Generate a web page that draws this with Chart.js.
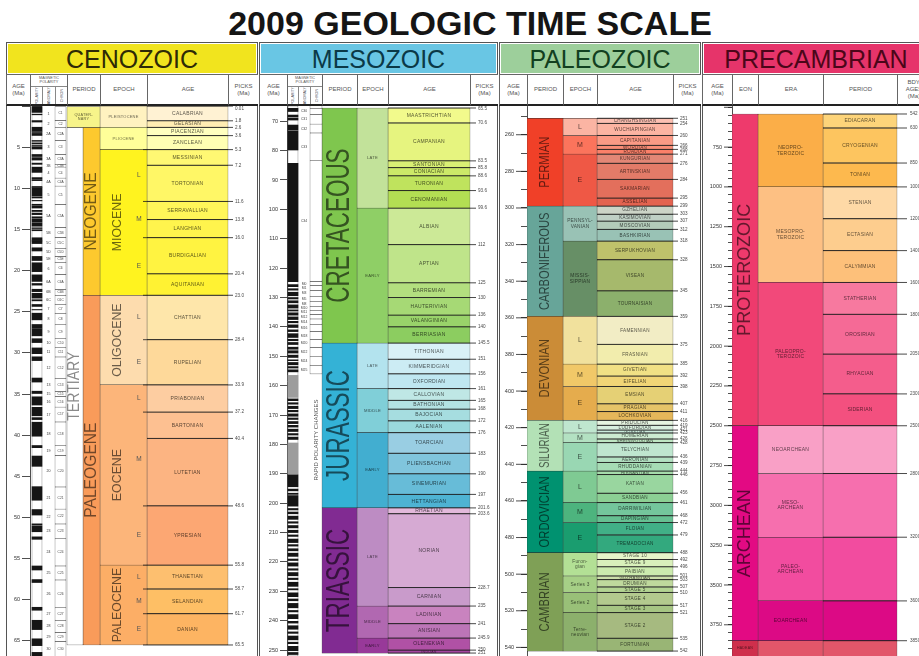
<!DOCTYPE html>
<html>
<head>
<meta charset="utf-8">
<title>2009 Geologic Time Scale</title>
<script src="https://cdn.jsdelivr.net/npm/chart.js@4.4.1/dist/chart.umd.min.js"></script>
<style>
  html, body { margin: 0; padding: 0; background: #fff; }
  #page { position: relative; width: 919px; height: 656px; overflow: hidden; font-family: "Liberation Sans", Arial, sans-serif; }
  #title { position: absolute; left: 0; top: 4px; width: 940px; text-align: center; font-weight: bold; font-size: 34px; line-height: 38px; color: #151515; }
  .frame { position: absolute; top: 42px; height: 640px; border: 1px solid #555; box-sizing: border-box; background: #fff; }
  .band { position: absolute; top: 44px; height: 29px; text-align: center; font-size: 25px; line-height: 30px; overflow: hidden; white-space: nowrap; }
  .head { position: absolute; top: 74px; height: 32px; box-sizing: border-box; border-left: 1px solid #666; border-top: 1px solid #666; border-bottom: 2px solid #222; display: flex; align-items: center; justify-content: center; text-align: center; font-size: 6px; line-height: 7px; color: #555; white-space: pre; background: #fff; overflow: hidden; }
  .mag { position: absolute; top: 1px; left: 0; right: 0; font-size: 3.8px; line-height: 4.4px; }
  .sub { position: absolute; top: 11px; bottom: 0; border-left: 1px solid #888; border-top: 1px solid #888; box-sizing: border-box; display: flex; align-items: center; justify-content: center; }
  .sub span { writing-mode: vertical-rl; transform: rotate(180deg); font-size: 3.6px; line-height: 4px; }
  canvas { position: absolute; top: 106px; }
</style>
</head>
<body>
<div id="page">
  <div id="title">2009 GEOLOGIC TIME SCALE</div>
</div>
<script>
const FONT = '"Liberation Sans", Arial, sans-serif';
Chart.defaults.font.family = FONT;

// ---------- Cenozoic ----------
const cenoPeriodNames = ['QUATER-\nNARY'];
const cenoPeriodBounds = [0, 2.6];
const cenoSubPeriodNames = ['NEOGENE', 'PALEOGENE'];
const cenoSubPeriodBounds = [2.6, 23.0, 65.5];
const cenoTertiaryNames = ['TERTIARY'];
const cenoTertiaryBounds = [2.6, 65.5];
const cenoEpochNames = ['PLEISTOCENE', 'PLIOCENE', 'MIOCENE', 'OLIGOCENE', 'EOCENE', 'PALEOCENE'];
const cenoEpochBounds = [0.01, 2.6, 5.3, 23.0, 33.9, 55.8, 65.5];
const cenoSubNames = ['L', 'M', 'E', 'L', 'E', 'L', 'M', 'E', 'L', 'M', 'E'];
const cenoSubBounds = [5.3, 11.6, 16.0, 23.0, 28.4, 33.9, 37.2, 48.6, 55.8, 58.7, 61.7, 65.5];
const cenoAgeNames = ['CALABRIAN', 'GELASIAN', 'PIACENZIAN', 'ZANCLEAN', 'MESSINIAN', 'TORTONIAN', 'SERRAVALLIAN',
  'LANGHIAN', 'BURDIGALIAN', 'AQUITANIAN', 'CHATTIAN', 'RUPELIAN', 'PRIABONIAN', 'BARTONIAN', 'LUTETIAN',
  'YPRESIAN', 'THANETIAN', 'SELANDIAN', 'DANIAN'];
const cenoAgeBounds = [0.01, 1.8, 2.6, 3.6, 5.3, 7.2, 11.6, 13.8, 16.0, 20.4, 23.0, 28.4, 33.9, 37.2, 40.4,
  48.6, 55.8, 58.7, 61.7, 65.5];
const cenoChronNames = ['1', '2', '2A', '3', '3A', '3B', '4', '4A', '5', '5A', '5B', '5C', '5D', '5E', '6', '6A',
  '6B', '6C', '7', '8', '9', '10', '11', '12', '13', '15', '16', '17', '18', '19', '20', '21', '22', '23', '24',
  '25', '26', '27', '28', '29', '30'];
const cenoChronBounds = [0, 1.77, 2.58, 4.19, 5.89, 7.09, 7.43, 8.77, 9.74, 12.0, 14.8, 16.0, 17.3, 18.3, 19.0,
  20.5, 22.3, 23.0, 24.1, 25.2, 26.6, 28.3, 29.4, 30.5, 33.1, 34.7, 35.3, 36.6, 38.4, 41.3, 42.5, 46.3, 49.0,
  50.8, 52.6, 55.9, 57.6, 61.0, 62.5, 64.0, 65.1, 67.7];
const cenoNormal = [[0, 0.78], [0.99, 1.07], [1.77, 1.95], [2.58, 3.04], [3.11, 3.22], [3.33, 3.58], [4.19, 4.29],
  [4.48, 4.62], [4.8, 4.89], [4.98, 5.23], [5.89, 6.14], [6.27, 6.57], [6.94, 7.09], [7.43, 7.65], [7.7, 8.07],
  [8.7, 8.93], [9.03, 9.07], [9.78, 9.88], [9.92, 10.95], [11.06, 11.18], [11.47, 11.53], [11.94, 12.08],
  [12.18, 12.4], [12.68, 12.82], [13.01, 13.2], [13.46, 13.59], [13.7, 14.08], [14.18, 14.61], [14.8, 14.89],
  [15.03, 15.16], [16.01, 16.29], [16.33, 16.49], [16.54, 16.72], [17.23, 17.62], [18.28, 18.78], [19.05, 20.13],
  [20.52, 21.32], [21.57, 21.77], [22.27, 22.56], [22.76, 23.35], [23.54, 23.68], [24.12, 24.36], [24.73, 24.78],
  [25.18, 25.99], [26.55, 27.03], [27.1, 27.93], [28.28, 28.75], [29.4, 30.1], [30.48, 30.94], [33.06, 33.55],
  [34.66, 34.94], [35.34, 36.34], [36.62, 37.65], [37.87, 38.11], [38.43, 40.13], [41.26, 41.52], [42.54, 43.79],
  [46.26, 47.91], [49.04, 49.71], [50.78, 50.95], [51.07, 51.74], [52.36, 52.66], [55.9, 56.39], [57.55, 57.91],
  [60.92, 61.28], [62.5, 63.63], [64.75, 65.58], [66.4, 68.18]];

const cenoEpochColors = ['#fff2c0', '#ffff99', '#fff31f', '#fddcae', '#fcb57a', '#fcae66'];
const cenoAgeColors = ['#fff2d3', '#ffedb3', '#ffffbf', '#ffffb3', '#fff873', '#fff766', '#fff659', '#fff44d',
  '#fff341', '#fff233', '#fee6aa', '#fed99a', '#fdcda1', '#fdc091', '#fcb482', '#fca773', '#fdbf6f', '#febf65',
  '#fdb462'];

// ---------- Mesozoic ----------
const mesoPeriodNames = ['CRETACEOUS', 'JURASSIC', 'TRIASSIC'];
const mesoPeriodBounds = [65.5, 145.5, 201.6, 251.0];
const mesoEpochNames = ['LATE', 'EARLY', 'LATE', 'MIDDLE', 'EARLY', 'LATE', 'MIDDLE', 'EARLY'];
const mesoEpochBounds = [65.5, 99.6, 145.5, 161, 176, 201.6, 235, 245.9, 251.0];
const mesoAgeNames = ['MAASTRICHTIAN', 'CAMPANIAN', 'SANTONIAN', 'CONIACIAN', 'TURONIAN', 'CENOMANIAN', 'ALBIAN',
  'APTIAN', 'BARREMIAN', 'HAUTERIVIAN', 'VALANGINIAN', 'BERRIASIAN', 'TITHONIAN', 'KIMMERIDGIAN', 'OXFORDIAN',
  'CALLOVIAN', 'BATHONIAN', 'BAJOCIAN', 'AALENIAN', 'TOARCIAN', 'PLIENSBACHIAN', 'SINEMURIAN', 'HETTANGIAN',
  'RHAETIAN', 'NORIAN', 'CARNIAN', 'LADINIAN', 'ANISIAN', 'OLENEKIAN', 'INDUAN'];
const mesoAgeBounds = [65.5, 70.6, 83.5, 85.8, 88.6, 93.6, 99.6, 112, 125, 130, 136, 140, 145.5, 151, 156, 161,
  165, 168, 172, 176, 183, 190, 197, 201.6, 203.6, 228.7, 235, 241, 245.9, 250, 251];
const mesoChronNames = ['C29', 'C30', 'C31', 'C32', 'C33', 'C34', 'M0', 'M1', 'M3', 'M5', 'M8', 'M10', 'M11',
  'M12', 'M14', 'M16', 'M18', 'M20', 'M22', 'M24', 'M25'];
const mesoChronBounds = [64.8, 65.6, 67.7, 71.0, 74.0, 83.5, 124.6, 125.9, 127.6, 129.6, 131.3, 133.0, 134.4,
  135.8, 137.3, 139.1, 141.6, 144.3, 147.0, 150.2, 153.1, 156.0];
const mesoNormal = [[65.6, 66.7], [67.9, 68.6], [69.0, 69.6], [71.3, 73.0], [73.3, 79.8], [84.3, 124.6],
  [125.6, 126.3], [127.0, 127.5], [128.2, 129.4], [130.0, 130.5], [131.1, 131.8], [132.5, 133.6], [134.2, 134.6],
  [135.2, 136.0], [136.6, 137.5], [138.1, 138.6], [139.3, 140.2], [141.0, 141.6], [142.3, 143.6], [144.2, 144.7],
  [145.3, 146.0], [146.9, 147.6], [148.1, 148.9], [149.6, 150.4], [151.2, 151.5], [152.1, 152.9], [153.5, 154.0],
  [154.6, 155.3], [164.5, 165.1], [165.8, 166.3], [167.0, 167.8], [168.4, 168.9], [169.6, 170.4], [171.0, 171.5],
  [172.2, 172.9], [173.5, 174.1], [174.8, 175.6], [176.3, 176.8], [177.5, 178.3], [190.3, 194.4], [195.2, 195.8],
  [196.6, 197.0], [197.4, 201.0], [201.8, 202.3], [203.0, 203.6], [204.4, 205.5], [206.3, 206.8], [207.6, 208.4],
  [209.2, 210.0], [210.8, 211.3], [212.2, 213.4], [214.1, 214.6], [215.5, 216.2], [217.0, 218.1], [219.0, 219.5],
  [220.3, 221.4], [222.3, 222.8], [223.6, 224.7], [225.5, 226.0], [226.9, 228.3], [229.1, 229.5], [230.5, 231.8],
  [232.6, 233.2], [234.1, 235.6], [236.5, 237.0], [237.9, 239.3], [240.2, 240.8], [241.7, 242.9], [243.8, 244.3],
  [245.2, 246.5], [247.3, 247.8], [248.7, 250.2], [250.8, 251.5]];
const mesoGray = [[156.5, 164], [179.5, 190]];
const mesoRapidNames = ['RAPID POLARITY CHANGES'];
const mesoRapidBounds = [160, 197];

const mesoPeriodColors = ['#7fc64e', '#34b2d6', '#812b92'];
const mesoEpochColors = ['#c2e29a', '#8fcf66', '#b3e3ee', '#80cfd8', '#42aed0', '#bd8cc3', '#b168b1', '#983999'];
const mesoAgeColors = ['#f2fa8c', '#e6f47f', '#d9ef74', '#cce968', '#bfe35d', '#b3de53', '#cce997', '#bfe48a',
  '#b3df7f', '#a6d975', '#99d36a', '#8ccd60', '#d9f1f7', '#ccecf4', '#bfe7f1', '#bfe7e5', '#b3e2e3', '#a6dde0',
  '#9ad9dd', '#99cee3', '#80c5dd', '#67bcd8', '#4eb3d3', '#e3b9db', '#d6aad3', '#c99bcb', '#c983bf', '#bc75b7',
  '#b051a5', '#a4469f'];

// ---------- Paleozoic ----------
const paleoPeriodNames = ['PERMIAN', 'CARBONIFEROUS', 'DEVONIAN', 'SILURIAN', 'ORDOVICIAN', 'CAMBRIAN'];
const paleoPeriodBounds = [251.0, 299.0, 359.2, 416.0, 443.7, 488.3, 542.0];
const paleoEpochNames = ['L', 'M', 'E', 'PENNSYL-\nVANIAN', 'MISSIS-\nSIPPIAN', 'L', 'M', 'E', 'L', 'M', 'E',
  'L', 'M', 'E', 'Furon-\ngian', 'Series 3', 'Series 2', 'Terre-\nneuvian'];
const paleoEpochBounds = [251.0, 260.4, 270.6, 299.0, 318.1, 359.2, 385.3, 397.5, 416.0, 422.9, 428.2, 443.7,
  460.9, 471.8, 488.3, 501, 510, 521, 542];
const paleoAgeNames = ['CHANGHSINGIAN', 'WUCHIAPINGIAN', 'CAPITANIAN', 'WORDIAN', 'ROADIAN', 'KUNGURIAN',
  'ARTINSKIAN', 'SAKMARIAN', 'ASSELIAN', 'GZHELIAN', 'KASIMOVIAN', 'MOSCOVIAN', 'BASHKIRIAN', 'SERPUKHOVIAN',
  'VISEAN', 'TOURNAISIAN', 'FAMENNIAN', 'FRASNIAN', 'GIVETIAN', 'EIFELIAN', 'EMSIAN', 'PRAGIAN', 'LOCHKOVIAN',
  'PRIDOLIAN', 'LUDFORDIAN', 'GORSTIAN', 'HOMERIAN', 'SHEINWOODIAN', 'TELYCHIAN', 'AERONIAN', 'RHUDDANIAN',
  'HIRNANTIAN', 'KATIAN', 'SANDBIAN', 'DARRIWILIAN', 'DAPINGIAN', 'FLOIAN', 'TREMADOCIAN', 'STAGE 10', 'STAGE 9',
  'PAIBIAN', 'GUZHANGIAN', 'DRUMIAN', 'STAGE 5', 'STAGE 4', 'STAGE 3', 'STAGE 2', 'FORTUNIAN'];
const paleoAgeBounds = [251.0, 253.8, 260.4, 265.8, 268.0, 270.6, 275.6, 284.4, 294.6, 299.0, 303.4, 307.2,
  311.7, 318.1, 328.3, 345.3, 359.2, 374.5, 385.3, 391.8, 397.5, 407.0, 411.2, 416.0, 418.7, 421.3, 422.9, 426.2,
  428.2, 436.0, 439.0, 443.7, 445.6, 455.8, 460.9, 468.1, 471.8, 478.6, 488.3, 492, 496, 501, 503, 507, 510, 517,
  521, 535, 542];

const paleoPeriodColors = ['#f04028', '#67a599', '#cb8c37', '#b3e1b6', '#009270', '#7fa056'];
const paleoEpochColors = ['#fbb4a3', '#fb745c', '#ef5845', '#99c2b5', '#678f66', '#f1e19d', '#f1c868', '#e5ac4d',
  '#bfe6cf', '#b3e1c2', '#99d7b3', '#7fca93', '#4db47e', '#1a9d6f', '#b3e095', '#a6cf86', '#99c078', '#8cb06c'];
const paleoAgeColors = ['#fcc0b2', '#fcb4a2', '#fb9a85', '#fb8d76', '#fb8069', '#e38776', '#e37b68', '#e36f5c',
  '#e36350', '#ccd4c7', '#bfd0c5', '#b3cbb9', '#99c2b5', '#bfc26b', '#a6b96c', '#8cb06c', '#f2edc5', '#f2edad',
  '#f1e185', '#f1d576', '#e5d075', '#e5c468', '#e5b75a', '#e6f5e1', '#d9f0df', '#ccecdd', '#ccebd1', '#bfe6c3',
  '#bfe6cf', '#b3e1c2', '#a6dcb5', '#a6dbab', '#99d69f', '#8cd094', '#74c69c', '#66c092', '#41b087', '#33a97e',
  '#e6f5c9', '#d9f0bb', '#ccebae', '#ccdfaa', '#bfd99d', '#b3d492', '#b3ca8e', '#a6c583', '#a6ba80', '#99b575'];

// ---------- Precambrian ----------
const preEonNames = ['PROTEROZOIC', 'ARCHEAN', 'HADEAN'];
const preEonBounds = [542, 2500, 3850, 4000];
const preEraNames = ['NEOPRO-\nTEROZOIC', 'MESOPRO-\nTEROZOIC', 'PALEOPRO-\nTEROZOIC', 'NEOARCHEAN', 'MESO-\nARCHEAN',
  'PALEO-\nARCHEAN', 'EOARCHEAN', ''];
const preEraBounds = [542, 1000, 1600, 2500, 2800, 3200, 3600, 3850, 4000];
const prePeriodNames = ['EDIACARAN', 'CRYOGENIAN', 'TONIAN', 'STENIAN', 'ECTASIAN', 'CALYMMIAN', 'STATHERIAN',
  'OROSIRIAN', 'RHYACIAN', 'SIDERIAN', '', '', '', '', ''];
const prePeriodBounds = [542, 630, 850, 1000, 1200, 1400, 1600, 1800, 2050, 2300, 2500, 2800, 3200, 3600, 3850, 4000];
const preBoundaryAges = [542, 630, 850, 1000, 1200, 1400, 1600, 1800, 2050, 2300, 2500, 2800, 3200, 3600, 3850];

const preEonColors = ['#ee3a6c', '#e30a83', '#cf2f4c'];
const preEraColors = ['#fbae48', '#fdc083', '#f2497a', '#f9a0c6', '#f66fae', '#f24c9f', '#dc0a85', '#e2566a'];
const prePeriodColors = ['#fdd47a', '#fdc55f', '#fdb94e', '#fed9a6', '#fdcd8e', '#fdc07a', '#f7799f', '#f56a96',
  '#f45d8c', '#f3507f', '#f9a0c6', '#f66fae', '#f24c9f', '#dc0a85', '#e2566a'];

// ---------- helpers ----------
function shade(c, f) {
  if (typeof c !== 'string' || c[0] !== '#') return '#333';
  const n = parseInt(c.slice(1), 16);
  const r = (n >> 16) & 255, g = (n >> 8) & 255, b = n & 255;
  return `rgb(${Math.round(r * f)},${Math.round(g * f)},${Math.round(b * f)})`;
}

function onStep(v, step) {
  return Math.abs(v / step - Math.round(v / step)) < 1e-6;
}

// one column of stacked time intervals, drawn as floating bars
function bands(names, bounds, colors, x0, x1, text, extra) {
  return Object.assign({
    data: names.map((n, i) => ({ x: (x0 + x1) / 2, y: [bounds[i], bounds[i + 1]] })),
    names: names,
    text: text || null,
    backgroundColor: colors,
    borderColor: '#2b2b2b',
    borderWidth: text && text.noBorder ? 0 : 0.5,
    borderSkipped: false,
    barThickness: x1 - x0,
    grouped: false,
  }, extra || {});
}

// loose intervals (polarity stripes)
function spans(pairs, color, x0, x1) {
  return {
    data: pairs.map((p) => ({ x: (x0 + x1) / 2, y: p })),
    backgroundColor: color,
    borderWidth: 0,
    barThickness: x1 - x0,
    grouped: false,
  };
}

const AGE_TEXT = { size: 5, dark: 0.36, spacing: 0.3 };

const bandText = {
  id: 'bandText',
  afterDatasetsDraw(chart) {
    const ctx = chart.ctx;
    const area = chart.chartArea;
    chart.data.datasets.forEach((ds, di) => {
      const t = ds.text;
      if (!t || !ds.names) return;
      chart.getDatasetMeta(di).data.forEach((el, i) => {
        const name = ds.names[i];
        if (!name) return;
        const p = el.getProps(['x', 'y', 'base', 'width'], true);
        const top = Math.max(Math.min(p.y, p.base), area.top);
        const bot = Math.min(Math.max(p.y, p.base), area.bottom);
        const h = bot - top;
        if (h < 2.5) return;
        const cy = (top + bot) / 2;
        const bg = Array.isArray(ds.backgroundColor) ? ds.backgroundColor[i] : ds.backgroundColor;
        ctx.save();
        ctx.fillStyle = t.color || shade(bg, t.dark || 0.36);
        ctx.textAlign = 'center';
        ctx.textBaseline = 'middle';
        let done = false;
        if (t.rotate && h > (t.rotateMin || 0)) {
          ctx.font = `${t.size}px ${FONT}`;
          const w = ctx.measureText(name).width;
          const s = Math.min(t.squeeze || 1, (h - (t.pad === undefined ? 6 : t.pad)) / w);
          if (s > 0.4) {
            ctx.translate(p.x + (t.dx || 0), cy);
            ctx.rotate(-Math.PI / 2);
            ctx.scale(s, 1);
            ctx.fillText(name, 0, 0);
            done = true;
          }
        }
        if (!done) {
          const lines = name.split('\n');
          let size = name.length === 1 && t.letter ? t.letter : (t.rotate ? (t.small || 4) : t.size);
          size = Math.min(size, (h + 1) / (lines.length * 1.1));
          if (size >= 2.4) {
            ctx.font = `${size}px ${FONT}`;
            if ('letterSpacing' in ctx) ctx.letterSpacing = `${t.spacing === undefined ? 0.2 : t.spacing}px`;
            const w = Math.max(...lines.map((l) => ctx.measureText(l).width));
            const sx = Math.min(1, (p.width - 3) / w);
            ctx.translate(p.x, cy);
            ctx.scale(sx, 1);
            lines.forEach((l, k) => ctx.fillText(l, 0, (k - (lines.length - 1) / 2) * size * 1.1));
          }
        }
        ctx.restore();
      });
    });
  },
};

// boundary lines with their age picks, plus longer ticks at labelled ages
const picksPlugin = {
  id: 'picks',
  afterDatasetsDraw(chart, args, o) {
    if (!o.values) return;
    const ctx = chart.ctx, xs = chart.scales.x, ys = chart.scales.y, area = chart.chartArea;
    const line = (v, a, b) => {
      const y = ys.getPixelForValue(v);
      ctx.beginPath();
      ctx.moveTo(xs.getPixelForValue(a), y);
      ctx.lineTo(xs.getPixelForValue(b), y);
      ctx.stroke();
      return y;
    };
    ctx.save();
    ctx.strokeStyle = '#1c1c1c';
    ctx.lineWidth = 0.8;
    ctx.fillStyle = '#4a4a4a';
    ctx.font = `4.6px ${FONT}`;
    ctx.textBaseline = 'middle';
    ctx.textAlign = 'left';
    o.values.forEach((v, i) => {
      const y = line(v, o.from, o.to);
      ctx.fillText(o.labels[i], xs.getPixelForValue(o.text), Math.max(y, area.top + 3));
    });
    if (o.short) o.short.values.forEach((v) => line(v, o.short.from, o.short.to));
    ctx.restore();
  },
  afterDraw(chart, args, o) {
    if (!o.majorLen) return;
    const ys = chart.scales.y, ctx = chart.ctx, left = chart.chartArea.left;
    ctx.save();
    ctx.strokeStyle = '#222';
    ctx.lineWidth = 0.8;
    ys.ticks.forEach((t) => {
      if (!onStep(t.value, o.major)) return;
      const y = ys.getPixelForValue(t.value);
      ctx.beginPath();
      ctx.moveTo(left - o.majorLen, y);
      ctx.lineTo(left, y);
      ctx.stroke();
    });
    ctx.restore();
  },
};

const page = document.getElementById('page');

function drawPanel(p) {
  const cv = document.createElement('canvas');
  cv.width = p.width;
  cv.height = 550;
  cv.style.left = p.left + 'px';
  page.appendChild(cv);
  const axisRight = p.left + p.axisW;
  new Chart(cv, {
    type: 'bar',
    data: { datasets: p.datasets },
    options: {
      responsive: false,
      animation: false,
      events: [],
      devicePixelRatio: 1,
      layout: { padding: 0 },
      plugins: {
        legend: { display: false },
        tooltip: { enabled: false },
        picks: Object.assign({ major: p.major, majorLen: p.majorLen || 0 }, p.picks),
      },
      scales: {
        x: { type: 'linear', display: false, offset: false, min: axisRight, max: p.left + p.width },
        y: {
          type: 'linear',
          reverse: true,
          min: p.yMin,
          max: p.yMax,
          afterBuildTicks: (s) => {
            const out = [];
            for (let v = Math.ceil(s.min / p.minor) * p.minor; v <= s.max; v += p.minor) out.push({ value: v });
            s.ticks = out;
          },
          afterFit: (s) => {
            s.width = p.axisW;
            s.paddingTop = 0;
            s.paddingBottom = 0;
          },
          ticks: {
            autoSkip: false,
            font: { size: 5.5 },
            color: '#333',
            padding: p.tickPad,
            callback: (v) => (onStep(v, p.major) && v > p.yMin + (p.yMax - p.yMin) * 0.02 ? String(v) : ''),
          },
          grid: { drawOnChartArea: false, tickLength: p.tickLen, tickColor: '#222', tickWidth: 0.8 },
          border: { color: '#222', width: 0.8 },
        },
      },
    },
    plugins: [picksPlugin, bandText],
  });
}

// ---------- headers ----------
const headers = [
  { name: 'CENOZOIC', x0: 6, x1: 258, band: '#f1e41e', ink: '#2e2a06',
    cols: [[6, 30, 'AGE\n(Ma)'], [30, 67, [[30, 42, 'POLARITY'], [42, 55, 'ANOMALY'], [55, 67, 'CHRON']]],
      [67, 100, 'PERIOD'], [100, 147, 'EPOCH'], [147, 228, 'AGE'], [228, 258, 'PICKS\n(Ma)']] },
  { name: 'MESOZOIC', x0: 259, x1: 498, band: '#69c6e4', ink: '#0b3947',
    cols: [[259, 287, 'AGE\n(Ma)'], [287, 322, [[287, 298, 'POLARITY'], [298, 310, 'ANOMALY'], [310, 322, 'CHRON']]],
      [322, 357, 'PERIOD'], [357, 388, 'EPOCH'], [388, 470, 'AGE'], [470, 498, 'PICKS\n(Ma)']] },
  { name: 'PALEOZOIC', x0: 499, x1: 701, band: '#9dcf9b', ink: '#12401f',
    cols: [[499, 527, 'AGE\n(Ma)'], [527, 563, 'PERIOD'], [563, 597, 'EPOCH'], [597, 673, 'AGE'],
      [673, 701, 'PICKS\n(Ma)']] },
  { name: 'PRECAMBRIAN', x0: 702, x1: 930, band: '#e6346a', ink: '#4b0619',
    cols: [[702, 732, 'AGE\n(Ma)'], [732, 758, 'EON'], [758, 823, 'ERA'], [823, 897, 'PERIOD'],
      [897, 930, 'BDY.\nAGES\n(Ma)']] },
];

function box(cls, x0, x1, parent) {
  const d = document.createElement('div');
  d.className = cls;
  d.style.left = x0 + 'px';
  d.style.width = (x1 - x0) + 'px';
  (parent || page).appendChild(d);
  return d;
}

headers.forEach((h) => {
  box('frame', h.x0, h.x1);
  const b = box('band', h.x0 + 2, h.x1 - 2);
  b.style.background = h.band;
  b.style.color = h.ink;
  b.textContent = h.name;
  h.cols.forEach(([a, c, label]) => {
    const d = box('head', a, c);
    if (typeof label === 'string') {
      d.textContent = label;
      return;
    }
    const cap = document.createElement('div');
    cap.className = 'mag';
    cap.textContent = 'MAGNETIC\nPOLARITY';
    d.appendChild(cap);
    label.forEach(([s0, s1, txt]) => {
      const s = box('sub', s0 - a - 1, s1 - a - 1, d);
      s.innerHTML = `<span>${txt}</span>`;
    });
  });
});

// ---------- panels ----------
const CLEAR = 'rgba(0,0,0,0)';

drawPanel({
  left: 7, width: 250, axisW: 23, yMin: 0, yMax: 66.84, minor: 5, major: 5, tickLen: 8, tickPad: 2,
  picks: {
    values: cenoAgeBounds,
    labels: cenoAgeBounds.map((v) => (v < 0.1 ? String(v) : v.toFixed(1))),
    from: 147, to: 233, text: 235,
    short: { values: cenoSubBounds, from: 143, to: 147 },
  },
  datasets: [
    bands([''], [0, 66.84], '#ffffff', 32, 42, null, { order: 3 }),
    spans(cenoNormal, '#151515', 32, 42),
    bands(cenoChronNames, cenoChronBounds, CLEAR, 42, 55, { size: 3.6, color: '#333', noBorder: true, spacing: 0 }),
    bands(cenoChronNames.map((n) => 'C' + n), cenoChronBounds, '#ffffff', 55, 66, { size: 3.2, color: '#444', spacing: 0 }),
    bands(cenoPeriodNames, cenoPeriodBounds, '#f7f48a', 67, 100, { size: 3.8, dark: 0.4 }),
    bands(cenoTertiaryNames, cenoTertiaryBounds, '#ffffff', 67, 83, { rotate: true, size: 16, squeeze: 0.88, color: '#8a8a8a' }),
    bands(cenoSubPeriodNames, cenoSubPeriodBounds, ['#fdc92e', '#f99b5a'], 83, 100, { rotate: true, size: 17, squeeze: 0.92, dark: 0.45 }),
    bands(cenoEpochNames, cenoEpochBounds, cenoEpochColors, 100, 147, { rotate: true, rotateMin: 40, size: 13, squeeze: 0.95, dx: -6, small: 4, dark: 0.42, pad: 3 }),
    bands(cenoSubNames, cenoSubBounds, CLEAR, 133, 145, { size: 6.5, color: '#555', noBorder: true }),
    bands(cenoAgeNames, cenoAgeBounds, cenoAgeColors, 147, 228, AGE_TEXT),
  ],
});

drawPanel({
  left: 260, width: 237, axisW: 27, yMin: 64.82, yMax: 252.0, minor: 10, major: 10, tickLen: 7, tickPad: 2,
  picks: {
    values: mesoAgeBounds,
    labels: mesoAgeBounds.map((v) => String(v)),
    from: 388, to: 476, text: 478,
  },
  datasets: [
    bands([''], [64.82, 252], '#ffffff', 288, 298, null, { order: 3 }),
    spans(mesoGray, '#9d9d9d', 288, 298),
    spans(mesoNormal, '#151515', 288, 298),
    bands(mesoChronNames, mesoChronBounds, CLEAR, 298, 310, { size: 3.4, color: '#444', noBorder: true, spacing: 0 }),
    bands(mesoChronNames.map(() => ''), mesoChronBounds, '#ffffff', 310, 322),
    bands(mesoRapidNames, mesoRapidBounds, CLEAR, 310, 322, { rotate: true, size: 6, color: '#555', noBorder: true, pad: 2 }),
    bands(mesoPeriodNames, mesoPeriodBounds, mesoPeriodColors, 322, 357, { rotate: true, size: 33, squeeze: 0.68, dark: 0.42 }),
    bands(mesoEpochNames, mesoEpochBounds, mesoEpochColors, 357, 388, { size: 4.2, dark: 0.4 }),
    bands(mesoAgeNames, mesoAgeBounds, mesoAgeColors, 388, 470, AGE_TEXT),
  ],
});

drawPanel({
  left: 500, width: 200, axisW: 27, yMin: 244.3, yMax: 544.7, minor: 10, major: 20, tickLen: 6, majorLen: 11, tickPad: 7,
  picks: {
    values: paleoAgeBounds,
    labels: paleoAgeBounds.map((v) => String(Math.round(v))),
    from: 597, to: 678, text: 680,
  },
  datasets: [
    bands(paleoPeriodNames, paleoPeriodBounds, paleoPeriodColors, 527, 563, { rotate: true, size: 14, squeeze: 0.8, dark: 0.42 }),
    bands(paleoEpochNames, paleoEpochBounds, paleoEpochColors, 563, 597, { size: 4.8, letter: 7, dark: 0.4 }),
    bands(paleoAgeNames, paleoAgeBounds, paleoAgeColors, 597, 673, Object.assign({}, AGE_TEXT, { size: 4.6 })),
  ],
});

drawPanel({
  left: 703, width: 216, axisW: 29, yMin: 491.8, yMax: 3946, minor: 50, major: 250, tickLen: 4, majorLen: 8, tickPad: 6,
  picks: {
    values: preBoundaryAges,
    labels: preBoundaryAges.map((v) => String(v)),
    from: 823, to: 907, text: 910,
  },
  datasets: [
    bands(preEonNames, preEonBounds, preEonColors, 732, 758, { rotate: true, size: 18, squeeze: 1, dark: 0.42, small: 3.5 }),
    bands(preEraNames, preEraBounds, preEraColors, 758, 823, { size: 5, dark: 0.4 }),
    bands(prePeriodNames, prePeriodBounds, prePeriodColors, 823, 897, { size: 5, dark: 0.4 }),
  ],
});
</script>
</body>
</html>
